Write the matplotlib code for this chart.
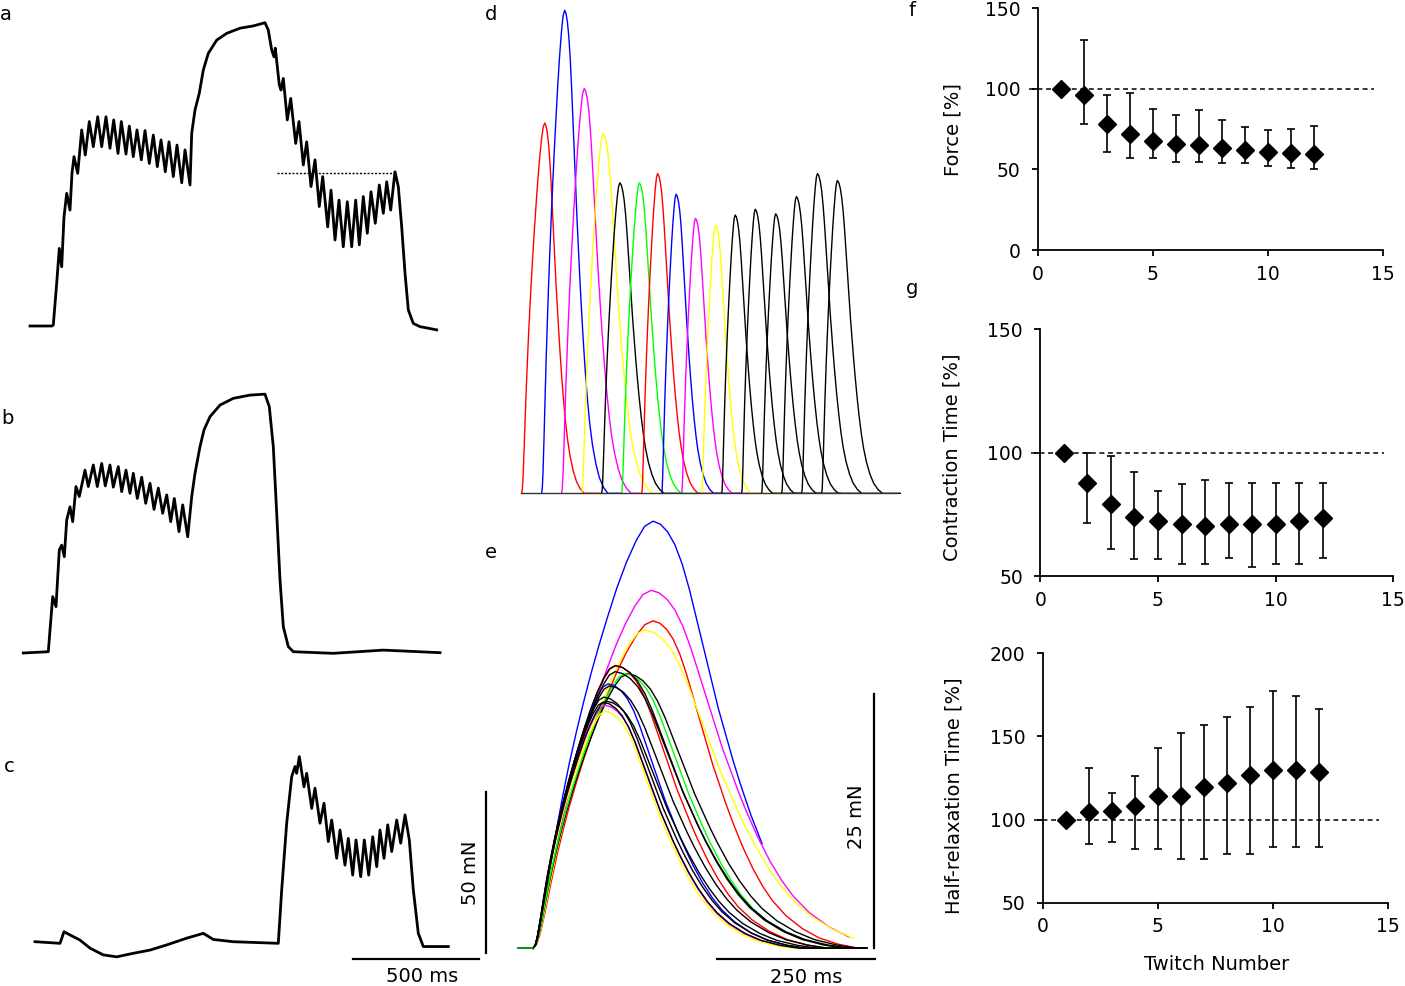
"""Twitch fatigue figure: force traces (a-c), twitch series (d, e) and summary (f-h)."""

import matplotlib

matplotlib.use("Agg")

import matplotlib.pyplot as plt
import numpy as np

W, H = 1405, 986
plt.rcParams["font.family"] = ["DejaVu Sans"]

# ---------------- panel a-c traces (time in ms, force in mN) ----------------
a_t = [0, 87, 92.5, 106, 116.3, 125.8, 135, 145.7, 158.8, 166.7, 174.7, 189.4, 205.2, 219.5,
       235.4, 251.3, 268.8, 284.6, 301.7, 317.6, 332.3, 349.4, 362.5, 381.1, 394.2, 410.1,
       424.8, 441.9, 456.6, 473.6, 489.5, 505.4, 520.1, 537.1, 551.8, 568.9, 583.6, 602.3,
       615.4, 635.2,
       642, 655.1, 672.1, 688, 707.9, 741.2, 780.9, 833.7, 886.5, 933,
       946, 959.5, 968.7, 973.8, 989.7, 996.5, 1005.6, 1021.5, 1035, 1054.8, 1068, 1085,
       1098.5, 1115.6, 1131.5, 1148.5, 1162, 1181.9, 1195, 1210.9, 1226.7, 1243.8, 1259.7,
       1277.1, 1293, 1307.3, 1323.2, 1339.1, 1353.8, 1370.8, 1386.7, 1402.6, 1416.1, 1432,
       1449, 1462.2, 1475.6, 1488.8, 1501.9, 1521.7, 1548.3, 1614.6]
a_f = [0, 0, 0.3, 13.3, 24.1, 18.4, 33.9, 41.2, 36.0, 47.4, 52.6, 47.4, 60.9, 53.1,
       63.5, 55.7, 65.0, 55.7, 65.0, 55.2, 64.0, 53.6, 63.5, 53.4, 62.1, 52.6,
       60.9, 51.6, 60.7, 50.5, 59.3, 49.5, 57.8, 47.9, 57.2, 46.4, 56.2, 44.5,
       54.7, 43.8,
       59.9, 67.1, 72.3, 79.5, 84.7, 88.8, 90.9, 92.5, 93.2, 94.2,
       91.9, 85.7, 83.6, 86.3, 74.9, 73.3, 76.9, 64.0, 70.7, 56.7, 63.5, 50.0,
       57.2, 43.3, 51.6, 37.1, 46.4, 30.8, 42.2, 26.7, 39.1, 24.6, 38.6,
       24.6, 39.1, 25.2, 40.2, 28.8, 41.7, 31.9, 43.8, 35.0, 44.8, 36.0,
       47.9, 43.3, 30.8, 16.4, 5.0, 0.8, -0.2, -1.2]
a_ref_level = 47.6
a_ref_start, a_ref_end = 980, 1449

b_t = [0, 99.3, 106, 116.7, 129.8, 142.9, 152.4, 162.8, 172.3, 185.4, 196.1, 209.2, 222.3,
       244.9, 258.1,
       277.9, 293.8, 311.2, 325.5, 344.2, 357.3, 377.2, 390.6, 407.7, 423.6, 436.7, 452.6,
       470, 485.9, 503, 518.9, 536, 553.4, 569.3, 585.2, 599.5, 618.1, 632.8, 652.7,
       668.5, 681.6, 701.5, 717.4, 741.2, 780.9, 833.7, 900, 959.5,
       976.6, 992.5, 1006, 1019.1, 1032.2, 1052, 1071.9, 1230.7, 1429.2, 1654.3]
b_f = [0, 0.4, 7.1, 17.5, 14.4, 32.0, 33.5, 29.9, 41.3, 45.4, 40.8, 51.7, 48.6,
       56.8, 51.7,
       58.4, 51.7, 58.9, 51.9, 58.4, 51.5, 57.9, 50.1, 56.8, 49.6, 55.8, 48.0,
       54.6, 46.5, 52.7, 44.6, 51.2, 43.4, 49.1, 40.8, 48.0, 37.7, 46.0, 36.1,
       48.5, 55.8, 64.1, 69.3, 73.4, 77.0, 79.1, 80.1, 80.4,
       76.5, 64.1, 43.4, 22.7, 8.2, 2.0, 0.4, -0.1, 0.9, 0.1]

c_t = [0, 99.3, 115.1, 139, 178.7, 218.3, 271.2, 324.3, 390.3, 456.6, 522.8, 602.3, 668.2,
       707.9, 787.3, 965.9,
       979.4, 999.2, 1019.1, 1032.2, 1038.9, 1049.3, 1067.9, 1078.6, 1098.5, 1111.6, 1131.5,
       1147.3, 1164.4, 1177.9, 1197.7, 1210.9, 1230.7, 1243.8, 1261.3, 1274.4, 1293, 1307.3,
       1324.8, 1340.7, 1356.6, 1369.7, 1385.6, 1400.3, 1416.1, 1436, 1451.9, 1469, 1486,
       1501.9, 1521.7, 1541.6, 1640.8]
c_f = [0.4, -0.1, 3.5, 2.5, 0.9, -1.6, -3.7, -4.3, -3.2, -2.2, -0.6, 1.5, 3.0,
       1.1, 0.4, -0.1,
       16.5, 37.2, 51.7, 54.8, 52.7, 57.9, 48.5, 52.7, 41.8, 48.1, 37.2,
       43.4, 31.5, 38.2, 26.3, 35.1, 24.2, 32.5, 21.1, 32.0, 20.6, 32.0,
       21.1, 33.0, 23.7, 35.1, 26.3, 36.7, 28.4, 38.2, 31.0, 39.8, 32.0,
       16.5, 3.0, -1.1, -1.1]

# scale bars for a-c
bar_ms, bar_mn = 500, 50

# ---------------- panels d, e: individual twitches ----------------
# normalised twitch template read from the largest twitch in e
rise_u = [0, .03, .06, .10, .15, .20, .25, .30, .36, .42, .48, .55, .62, .70, .78, .86, .93, 1.0]
rise_f = [0, .012, .045, .11, .20, .285, .36, .43, .505, .575, .64, .71, .775, .845, .905, .955,
          .988, 1.0]
decay_v = [0, .1, .2, .3, .4, .5, .6, .7, .8, .9, 1.0, 1.1, 1.2, 1.35, 1.5, 1.65, 1.8, 2.0,
           2.25, 2.5, 2.8, 3.1]
decay_f = [1.0, .993, .975, .945, .90, .84, .77, .70, .63, .56, .50, .44, .385, .31, .245, .19,
           .145, .10, .06, .032, .012, 0]

tw_colors = ["#ff0000", "#0000ff", "#ff00ff", "#ffff00", "#000000", "#00ff00", "#ff0000",
             "#0000ff", "#ff00ff", "#ffff00", "#000000", "#000000", "#000000", "#000000",
             "#000000", "#000000"]
tw_amp = [32.2, 42.0, 35.2, 31.3, 27.0, 27.0, 27.8, 26.0, 23.9, 23.3, 24.2, 24.7, 24.3, 25.8,
          27.8, 27.2]  # mN
tw_ct = [190, 190, 187, 177, 150, 146, 131, 119, 114, 114, 111, 112, 116, 121, 130, 130]  # ms
tw_hrt = [105, 115, 125, 132, 118, 112, 108, 100, 98, 96, 100, 104, 108, 112, 118, 120]  # ms
d_onset = [0, 165, 330, 496, 661, 826, 992, 1157, 1322, 1488, 1653, 1818, 1983, 2149, 2314,
           2479]  # ms
d_sweep = 650
e_sweep = [528, 375, 528, 528, 528, 528, 528, 528, 528, 528, 528, 528, 528, 528, 528, 528]
e_pre = -24
e_bar_ms, e_bar_mn = 250, 25

# ---------------- panels f-h: summary (mean and error range, %) ----------------
twitch_no = [1, 2, 3, 4, 5, 6, 7, 8, 9, 10, 11, 12]
force_mean = [100, 96.3, 78.3, 72.1, 67.6, 65.5, 65.3, 63.0, 62.2, 61.0, 59.9, 59.5]
force_top = [100, 130.2, 96.5, 97.3, 87.2, 83.9, 86.6, 80.6, 76.2, 74.6, 75.4, 76.9]
force_bot = [100, 78.1, 60.7, 57.4, 56.8, 54.8, 54.8, 53.9, 54.1, 51.9, 50.8, 50.4]
ct_mean = [100, 87.8, 79.4, 74.0, 72.3, 71.2, 70.2, 71.2, 71.2, 71.2, 72.5, 73.5]
ct_top = [100, 100, 98.7, 92.2, 84.5, 87.5, 89.0, 87.9, 87.9, 87.9, 87.9, 87.9]
ct_bot = [100, 71.7, 61.1, 57.0, 57.0, 55.1, 55.1, 57.6, 53.9, 55.1, 55.1, 57.3]
hrt_mean = [100, 104.5, 105.1, 108.4, 114.2, 114.2, 119.8, 122.2, 127.0, 130.0, 130.0, 128.8]
hrt_top = [100, 131.2, 116.0, 126.0, 142.8, 152.3, 156.7, 161.7, 167.7, 177.3, 174.1, 166.5]
hrt_bot = [100, 85.5, 86.5, 82.3, 82.3, 76.3, 76.3, 79.1, 79.1, 83.7, 83.7, 83.7]


def px_axes(fig, left, top, right, bottom):
    return fig.add_axes([left / W, 1 - bottom / H, (right - left) / W, (bottom - top) / H])


def trace_axes(fig, rect, origin, px_x, px_y):
    left, top, right, bottom = rect
    ax = px_axes(fig, left, top, right, bottom)
    x0, y0 = origin
    ax.set_xlim((left - x0) / px_x, (right - x0) / px_x)
    ax.set_ylim((y0 - bottom) / px_y, (y0 - top) / px_y)
    ax.axis("off")
    ax.patch.set_visible(False)
    return ax


def twitch(amp, ct, hrt, end):
    t = np.concatenate([np.array(rise_u) * ct, ct + np.array(decay_v) * hrt])
    f = np.concatenate([rise_f, decay_f]) * amp
    if end > t[-1]:
        # sweep carries on along the baseline
        t = np.append(t, end)
        f = np.append(f, 0)
    keep = t <= end
    return t[keep], f[keep]


def summary(ax, mean, top, bot, ylim, yticks, ylabel, label_xy):
    x = np.array(twitch_no)
    mean = np.array(mean)
    ax.errorbar(x, mean, yerr=[mean - np.array(bot), np.array(top) - mean], fmt="none",
                ecolor="black", elinewidth=1.2, capsize=3, capthick=1.2, zorder=2)
    ax.plot(x, mean, "D", color="black", markersize=9, zorder=3)
    ax.plot([-0.4, 14.6], [100, 100], color="black", lw=1.1, ls=(0, (3.2, 2.4)),
            clip_on=False, zorder=1)
    ax.set_xlim(0, 15)
    ax.set_ylim(*ylim)
    ax.set_xticks([0, 5, 10, 15])
    ax.set_yticks(yticks)
    for side in ("top", "right"):
        ax.spines[side].set_visible(False)
    for side in ("left", "bottom"):
        ax.spines[side].set_linewidth(1.3)
    ax.tick_params(direction="out", length=4.5, width=1.3, labelsize=13.5)
    ax.tick_params(axis="y", pad=8)
    ax.tick_params(axis="x", pad=6)
    ax.set_ylabel(ylabel, fontsize=14)
    ax.yaxis.set_label_coords(*label_xy)


fig = plt.figure(figsize=(W / 100, H / 100), dpi=100)

# a
px_ms, px_mn = 1 / 3.97, 1 / 0.3106
ax_a = trace_axes(fig, (0, 0, 500, 345), (30, 326), px_ms, px_mn)
ax_a.plot(a_t, a_f, color="black", lw=2.0)
ax_a.plot([a_ref_start, a_ref_end], [a_ref_level, a_ref_level], color="black", lw=1.0,
          ls=(0, (1.5, 1.2)))

# b
ax_b = trace_axes(fig, (0, 370, 500, 680), (23.3, 653), px_ms, px_mn)
ax_b.plot(b_t, b_f, color="black", lw=2.0)

# c with scale bars
ax_c = trace_axes(fig, (0, 740, 500, 986), (35, 943), px_ms, px_mn)
ax_c.plot(c_t, c_f, color="black", lw=2.0)
bx0, by0 = 1262.5, -5.0
ax_c.plot([bx0, bx0 + bar_ms], [by0, by0], color="black", lw=1.6, clip_on=False)
ax_c.plot([1790.5, 1790.5], [-3.1, -3.1 + bar_mn], color="black", lw=1.6, clip_on=False)
ax_c.text(1536, -10.3, f"{bar_ms} ms", ha="center", va="center", fontsize=14)
ax_c.text(1730, 21.9, f"{bar_mn} mN", ha="center", va="center", rotation=90, fontsize=14)

# d: twitches in sequence
ax_d = trace_axes(fig, (521, 0, 897, 500), (521.7, 493.3), 0.121, 11.5)
ax_d.axis("on")
for side in ("top", "right", "left"):
    ax_d.spines[side].set_visible(False)
ax_d.spines["bottom"].set_position(("data", 0))
ax_d.spines["bottom"].set_linewidth(1.0)
ax_d.spines["bottom"].set_color("#333333")
ax_d.set_xticks([])
ax_d.set_yticks([])
for i in range(len(tw_amp)):
    t, f = twitch(tw_amp[i], tw_ct[i], tw_hrt[i], d_sweep)
    ax_d.plot(d_onset[i] + t, f, color=tw_colors[i], lw=1.0, clip_on=False)

# e: twitches superimposed
ax_e = trace_axes(fig, (510, 505, 905, 986), (533, 948.3), 0.632, 10.17)
for i in range(len(tw_amp)):
    t, f = twitch(tw_amp[i], tw_ct[i], tw_hrt[i], e_sweep[i])
    ax_e.plot(t, f, color=tw_colors[i], lw=1.0)
ax_e.plot([e_pre, 0], [0, 0], color="#007f00", lw=1.3)
ax_e.plot([291.6, 291.6 + e_bar_ms], [-1.08, -1.08], color="black", lw=1.6, clip_on=False)
ax_e.plot([539.6, 539.6], [0, e_bar_mn], color="black", lw=1.6, clip_on=False)
ax_e.text(433, -2.85, f"{e_bar_ms} ms", ha="center", va="center", fontsize=14)
ax_e.text(512, 12.9, f"{e_bar_mn} mN", ha="center", va="center", rotation=90, fontsize=14)

# f, g, h
ax_f = px_axes(fig, 1038, 8.3, 1383, 250)
summary(ax_f, force_mean, force_top, force_bot, (0, 150), [0, 50, 100, 150], "Force [%]",
        (-0.218, 0.5))
ax_g = px_axes(fig, 1040.3, 329.3, 1393.3, 576.3)
summary(ax_g, ct_mean, ct_top, ct_bot, (50, 150), [50, 100, 150], "Contraction Time [%]",
        (-0.223, 0.484))
ax_h = px_axes(fig, 1042.7, 653.3, 1387.7, 902.7)
summary(ax_h, hrt_mean, hrt_top, hrt_bot, (50, 200), [50, 100, 150, 200],
        "Half-relaxation Time [%]", (-0.23, 0.43))
ax_h.set_xlabel("Twitch Number", fontsize=14)
ax_h.xaxis.set_label_coords(0.504, -0.21)

for letter, x, y in [("a", 6, 15), ("b", 7, 419), ("c", 9, 767), ("d", 491, 14),
                     ("e", 491, 552), ("f", 912, 11), ("g", 912, 289)]:
    fig.text(x / W, 1 - y / H, letter, ha="center", va="center", fontsize=14)

fig.savefig("out.png", dpi=100)
